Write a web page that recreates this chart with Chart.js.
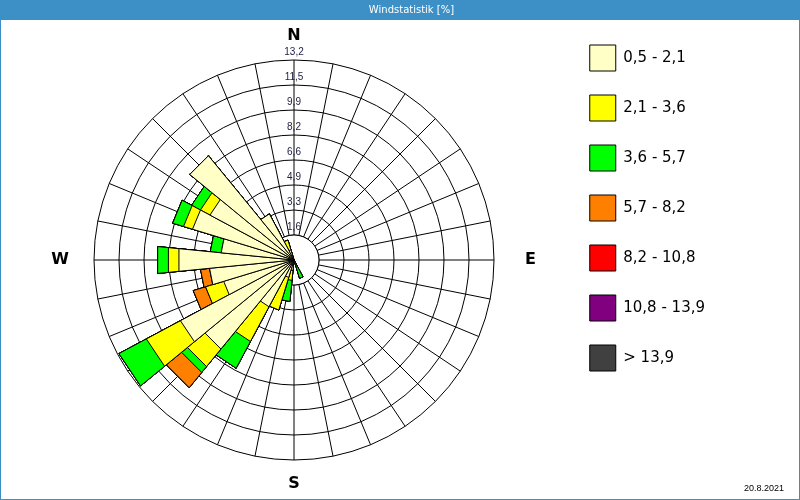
<!DOCTYPE html>
<html>
<head>
<meta charset="utf-8">
<script src="https://cdn.jsdelivr.net/npm/chart.js@4"></script>
<style>
html,body{margin:0;padding:0;background:#fff;}
#wrap{width:800px;height:500px;}
</style>
</head>
<body>
<div id="wrap"><canvas id="c" width="800" height="500"></canvas></div>
<script>
// ---- data ----
const chartTitle = 'Windstatistik [%]';
const dateLabel = '20.8.2021';
// 32 directions clockwise from N (11.25 degrees each)
const compassLabels = ['N','','','','','','','',
                       'E','','','','','','','',
                       'S','','','','','','','',
                       'W','','','','','','',''];
const classLabels = ['0,5 - 2,1','2,1 - 3,6','3,6 - 5,7','5,7 - 8,2','8,2 - 10,8','10,8 - 13,9','> 13,9'];
const classColors = ['#ffffc6','#ffff00','#00ff00','#ff8000','#ff0000','#800080','#404040'];
// frequency [%] per speed class and direction
const speed05_21  = [0,0,0,0,0,0,0,0, 0,0,0,0,0,0,0.20,0, 0,0.70,1.20,3.50,7.60,8.50,4.85,5.60, 7.63,4.83,7.00,6.29,8.90,3.45,0.70,0];
const speed21_36  = [0,0,0,0,0,0,0,0, 0,0,0,0,0,0,0.22,0, 0,0.65,2.25,2.60,1.50,2.55,1.25,0, 0.70,0,0.62,0.71,0,0,0.67,0];
const speed36_57  = [0,0,0,0,0,0,0,0, 0,0,0,0,0,0,0.84,0, 0,1.40,0,2.00,0.50,2.05,0,0, 0.71,0.72,0.75,0.66,0,0,0,0];
const speed57_82  = [0,0,0,0,0,0,0,0, 0,0,0,0,0,0,0,0, 0,0,0,0,1.30,0,0.85,0.60, 0,0,0,0,0,0,0,0];
const speed82_108 = [0,0,0,0,0,0,0,0, 0,0,0,0,0,0,0,0, 0,0,0,0,0,0,0,0, 0,0,0,0,0,0,0,0];
const speed108_139= [0,0,0,0,0,0,0,0, 0,0,0,0,0,0,0,0, 0,0,0,0,0,0,0,0, 0,0,0,0,0,0,0,0];
const speed139up  = [0,0,0,0,0,0,0,0, 0,0,0,0,0,0,0,0, 0,0,0,0,0,0,0,0, 0,0,0,0,0,0,0,0];
const ringValues = [0,1.65,3.3,4.95,6.6,8.25,9.9,11.55,13.2];
const ringLabels = ['','1,6','3,3','4,9','6,6','8,2','9,9','11,5','13,2'];

// ---- stacked (cumulative) datasets ----
const classes = [speed05_21, speed21_36, speed36_57, speed57_82, speed82_108, speed108_139, speed139up];
let running = compassLabels.map(() => 0);
const datasets = classes.map((arr, k) => {
  running = running.map((v, i) => v + arr[i]);
  return {
    label: classLabels[k],
    data: running.slice(),
    backgroundColor: classColors[k],
    borderColor: '#000',
    borderWidth: 1,
    circular: false,
    rAxisID: 'r'
  };
});

const FRAME_BLUE = '#3d90c6';

const spacerPlugin = {
  id: 'rightSpacer',
  beforeInit(chart) {
    const box = {
      position: 'right', weight: 5000, fullSize: false, options: {},
      left: 0, top: 0, right: 0, bottom: 0, width: 0, height: 0,
      isHorizontal() { return false; },
      update(maxWidth, maxHeight) { this.width = Math.min(85, maxWidth); this.height = maxHeight; },
      draw() {},
      _layers() { return [{ z: 0, draw() {} }]; }
    };
    if (Chart.layouts && Chart.layouts.addBox) Chart.layouts.addBox(chart, box);
    else { chart.boxes = chart.boxes || []; chart.boxes.push(box); }
  }
};

const framePlugin = {
  id: 'frame',
  beforeDraw(chart) {
    const ctx = chart.ctx;
    ctx.save();
    ctx.fillStyle = '#ffffff';
    ctx.fillRect(0, 0, chart.width, chart.height);
    const tb = chart.titleBlock;
    ctx.fillStyle = FRAME_BLUE;
    ctx.fillRect(0, 0, chart.width, tb ? tb.bottom - 1 : 20);
    ctx.restore();
  },
  beforeDatasetsDraw(chart) {
    const g = chart.scales.g;
    const ctx = chart.ctx;
    const r0 = g.getDistanceFromCenterForValue(ringValues[1]);
    ctx.save();
    ctx.beginPath();
    ctx.arc(g.xCenter, g.yCenter, r0, 0, Math.PI * 2);
    ctx.fillStyle = '#ffffff';
    ctx.fill();
    ctx.lineWidth = 1;
    ctx.strokeStyle = '#000';
    ctx.stroke();
    ctx.restore();
  },
  afterDatasetsDraw(chart) {
    const g = chart.scales.g;
    const ctx = chart.ctx;
    ctx.save();
    ctx.font = '10px "Liberation Sans", sans-serif';
    ctx.textAlign = 'center';
    ctx.textBaseline = 'middle';
    ctx.fillStyle = '#1c1c40';
    ringValues.forEach((v, i) => {
      if (!ringLabels[i]) return;
      const r = g.getDistanceFromCenterForValue(v);
      ctx.fillText(ringLabels[i], g.xCenter, g.yCenter - r - 8);
    });
    ctx.restore();
  },
  afterDraw(chart) {
    const ctx = chart.ctx;
    ctx.save();
    ctx.font = '9px "Liberation Sans", sans-serif';
    ctx.textAlign = 'right';
    ctx.textBaseline = 'middle';
    ctx.fillStyle = '#000';
    ctx.fillText(dateLabel, chart.width - 16, chart.height - 11);
    ctx.strokeStyle = FRAME_BLUE;
    ctx.lineWidth = 1;
    ctx.strokeRect(0.5, 0.5, chart.width - 1, chart.height - 1);
    ctx.restore();
  }
};

const labelFont = { family: 'DejaVu Sans', size: 16, weight: 'bold', lineHeight: 1.875 };
const labelPadding = (ctx) => ctx.index === 24 ? 25 : (ctx.index === 8 ? 31 : 9);

new Chart(document.getElementById('c'), {
  type: 'polarArea',
  data: { labels: compassLabels, datasets: datasets },
  plugins: [spacerPlugin, framePlugin],
  options: {
    responsive: false,
    devicePixelRatio: 1,
    animation: false,
    events: [],
    layout: { padding: { left: 23, right: 0, top: 0, bottom: 0 } },
    scales: {
      r: {
        type: 'radialLinear', axis: 'r',
        min: 0, max: 13.2, startAngle: -5.625,
        grid: { display: false },
        angleLines: { display: false },
        ticks: { display: false },
        pointLabels: { display: true, centerPointLabels: true, color: 'rgba(0,0,0,0)', font: labelFont, padding: labelPadding }
      },
      g: {
        type: 'radialLinear', axis: 'r',
        min: 0, max: 13.2, startAngle: 0,
        afterBuildTicks: (scale) => { scale.ticks = ringValues.map(v => ({ value: v })); },
        grid: { display: true, circular: true, color: '#000', lineWidth: 1 },
        angleLines: { display: true, color: '#000', lineWidth: 1 },
        ticks: { display: false },
        pointLabels: { display: true, centerPointLabels: false, color: '#000', font: labelFont, padding: labelPadding }
      }
    },
    plugins: {
      title: {
        display: true, text: chartTitle, color: '#ffffff',
        font: { family: 'DejaVu Sans', size: 10, weight: 'normal', lineHeight: 1.2 },
        padding: { top: 4, bottom: 5 }
      },
      legend: {
        display: true, position: 'right', align: 'start', fullSize: false,
        labels: {
          boxWidth: 26, boxHeight: 26, padding: 24, color: '#000',
          font: { family: 'DejaVu Sans', size: 15 },
          generateLabels: (chart) => chart.data.datasets.map((ds, i) => ({
            text: ds.label, fillStyle: ds.backgroundColor, strokeStyle: '#000',
            lineWidth: 1, hidden: false, datasetIndex: i, fontColor: '#000'
          }))
        }
      },
      tooltip: { enabled: false }
    }
  }
});
</script>
</body>
</html>
